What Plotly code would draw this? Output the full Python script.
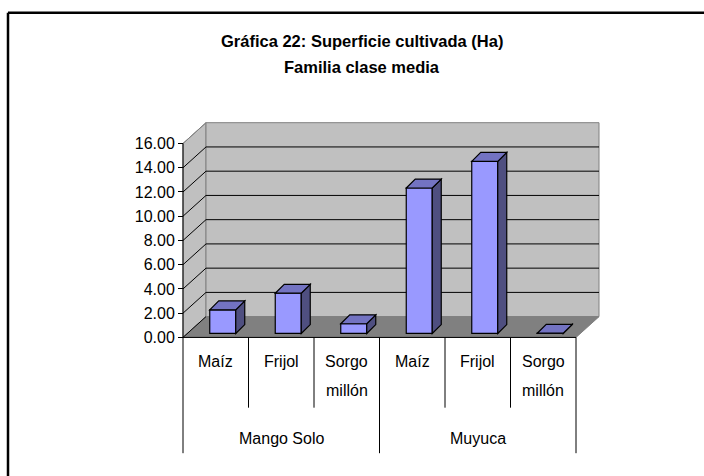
import plotly.graph_objects as go

# ---------------- data ----------------
crops = ["Maíz", "Frijol", "Sorgo millón"]
groups = ["Mango Solo", "Muyuca"]
mango_solo = [1.95, 3.32, 0.80]
muyuca = [12.0, 14.2, 0.02]
y_ticks = [0, 2, 4, 6, 8, 10, 12, 14, 16]
title_lines = ["Gráfica 22: Superficie cultivada (Ha)", "Familia clase media"]

values = mango_solo + muyuca
labels = crops + crops
n = len(values)
xs = list(range(n))

# ---------------- geometry (pixels, page coordinates) ----------------
W, H = 704, 476
OFF = 0                        # body margin removed below
X0PX, Y0PX = 183, 341          # front-left-bottom corner of the 3D box
CATW = 65.5                    # px per category
PXU = 12.25                    # px per y unit
DXPX, DYPX = 23, 21            # wall depth offset
BDX, BDY = 7, 4                # bar front offset from floor front
BSX, BSY = 9, 9                # bar depth (side face)
BARWPX = 26

dx = DXPX / CATW
dy = DYPX / PXU
bdx = BDX / CATW
bdy = BDY / PXU
bsx = BSX / CATW
bsy = BSY / PXU
bw = BARWPX / CATW
ymax = y_ticks[-1]

pad = 4
xr = [-0.5 - pad / CATW, -0.5 + (n * CATW + DXPX + pad) / CATW]
yr = [-pad / PXU, ymax + dy + pad / PXU]
xdom_px = [X0PX - pad, X0PX + n * CATW + DXPX + pad]
ydom_px = [Y0PX + pad, Y0PX - (ymax + dy) * PXU - pad]

def px(x):
    return (x - OFF) / W

def py(y):
    return 1 - (y - OFF) / H

FONT = "Liberation Sans, Arial, sans-serif"

fig = go.Figure()

fig.add_trace(go.Bar(
    x=xs, y=values, base=bdy, width=bw, offset=-bw / 2 + bdx,
    marker=dict(color="#9999FF", line=dict(color="black", width=1.2)),
    hoverinfo="skip", showlegend=False,
))

shapes = []

def path(pts):
    return "M " + " L ".join(f"{a},{b}" for a, b in pts) + " Z"

L, R = -0.5, n - 0.5
# left wall
shapes.append(dict(type="path", xref="x", yref="y", layer="below",
                   path=path([(L, 0), (L, ymax), (L + dx, ymax + dy), (L + dx, dy)]),
                   fillcolor="#C0C0C0", line=dict(color="#808080", width=1)))
# back wall
shapes.append(dict(type="path", xref="x", yref="y", layer="below",
                   path=path([(L + dx, dy), (L + dx, ymax + dy), (R + dx, ymax + dy), (R + dx, dy)]),
                   fillcolor="#C0C0C0", line=dict(color="#808080", width=1)))
# floor
shapes.append(dict(type="path", xref="x", yref="y", layer="below",
                   path=path([(L, 0), (L + dx, dy), (R + dx, dy), (R, 0)]),
                   fillcolor="#808080", line=dict(color="#808080", width=1)))
# gridlines on back wall + diagonals on left wall
for v in y_ticks:
    if 0 < v < ymax:
        shapes.append(dict(type="line", xref="x", yref="y", layer="below",
                           x0=L + dx, x1=R + dx, y0=v + dy, y1=v + dy,
                           line=dict(color="black", width=1)))
    shapes.append(dict(type="line", xref="x", yref="y", layer="below",
                       x0=L, x1=L + dx, y0=v, y1=v + dy,
                       line=dict(color="black" if v < ymax else "#808080", width=1)))
# value axis line
shapes.append(dict(type="line", xref="x", yref="y", x0=L, x1=L, y0=0, y1=ymax,
                   line=dict(color="black", width=1)))
# category axis line
shapes.append(dict(type="line", xref="x", yref="y", x0=L, x1=R, y0=0, y1=0,
                   line=dict(color="black", width=1)))

# 3D faces of bars
for i, v in enumerate(values):
    xl = i - bw / 2 + bdx
    xrr = xl + bw
    top = bdy + v
    shapes.append(dict(type="path", xref="x", yref="y", layer="above",
                       path=path([(xrr, bdy), (xrr + bsx, bdy + bsy), (xrr + bsx, top + bsy), (xrr, top)]),
                       fillcolor="#4F4F80", line=dict(color="black", width=1.2)))
    shapes.append(dict(type="path", xref="x", yref="y", layer="above",
                       path=path([(xl, top), (xl + bsx, top + bsy), (xrr + bsx, top + bsy), (xrr, top)]),
                       fillcolor="#7373C2", line=dict(color="black", width=1.2)))

# category table lines (paper coordinates)
per_group = len(crops)
for k in range(n + 1):
    xpx = X0PX + k * CATW
    bottom = 458 if k % per_group == 0 else 412
    shapes.append(dict(type="line", xref="paper", yref="paper",
                       x0=px(xpx), x1=px(xpx), y0=py(Y0PX), y1=py(bottom),
                       line=dict(color="black", width=1)))

# outer chart border (top and left visible)
shapes.append(dict(type="line", xref="paper", yref="paper",
                   x0=px(8), x1=px(W + 20), y0=py(13), y1=py(13),
                   line=dict(color="black", width=2.5)))
shapes.append(dict(type="line", xref="paper", yref="paper",
                   x0=px(8), x1=px(8), y0=py(13), y1=py(H + 20),
                   line=dict(color="black", width=2.5)))

annotations = []
LINE_Y = [365, 395]
for i, lab in enumerate(labels):
    cx = X0PX + (i + 0.5) * CATW
    for j, part in enumerate(lab.split(" ")):
        annotations.append(dict(xref="paper", yref="paper", x=px(cx), y=py(LINE_Y[j]),
                                xanchor="center", yanchor="middle", showarrow=False,
                                text=part,
                                font=dict(family=FONT, size=16, color="black")))
for g, name in enumerate(groups):
    cx = X0PX + (g + 0.5) * per_group * CATW
    annotations.append(dict(xref="paper", yref="paper", x=px(cx), y=py(443),
                            xanchor="center", yanchor="middle", showarrow=False,
                            text=name, font=dict(family=FONT, size=16, color="black")))
TITLE_Y = [41, 68]
for j, t in enumerate(title_lines):
    annotations.append(dict(xref="paper", yref="paper", x=px(362), y=py(TITLE_Y[j]),
                            xanchor="center", yanchor="middle", showarrow=False,
                            text=f"<b>{t}</b>",
                            font=dict(family=FONT, size=16.5, color="black")))

fig.update_layout(
    width=W, height=H,
    margin=dict(l=0, r=0, t=0, b=0),
    paper_bgcolor="white", plot_bgcolor="rgba(0,0,0,0)",
    shapes=shapes, annotations=annotations,
    xaxis=dict(domain=[px(xdom_px[0]), px(xdom_px[1])], range=xr,
               showgrid=False, zeroline=False, showticklabels=False, ticks="",
               showline=False, fixedrange=True),
    yaxis=dict(domain=[py(ydom_px[0]), py(ydom_px[1])], range=yr,
               anchor="free", position=px(X0PX),
               tickvals=y_ticks, ticktext=[f"{v:.2f}" for v in y_ticks],
               ticks="outside", ticklen=5, tickcolor="black", tickwidth=1,
               tickfont=dict(family=FONT, size=16, color="black"),
               showgrid=False, zeroline=False, showline=False, fixedrange=True),
    bargap=0,
    hovermode=False,
)

fig.write_html(
    "out.html",
    config={"displayModeBar": False, "staticPlot": True},
    post_script="document.body.style.margin='0px';document.body.style.overflow='hidden';",
)
